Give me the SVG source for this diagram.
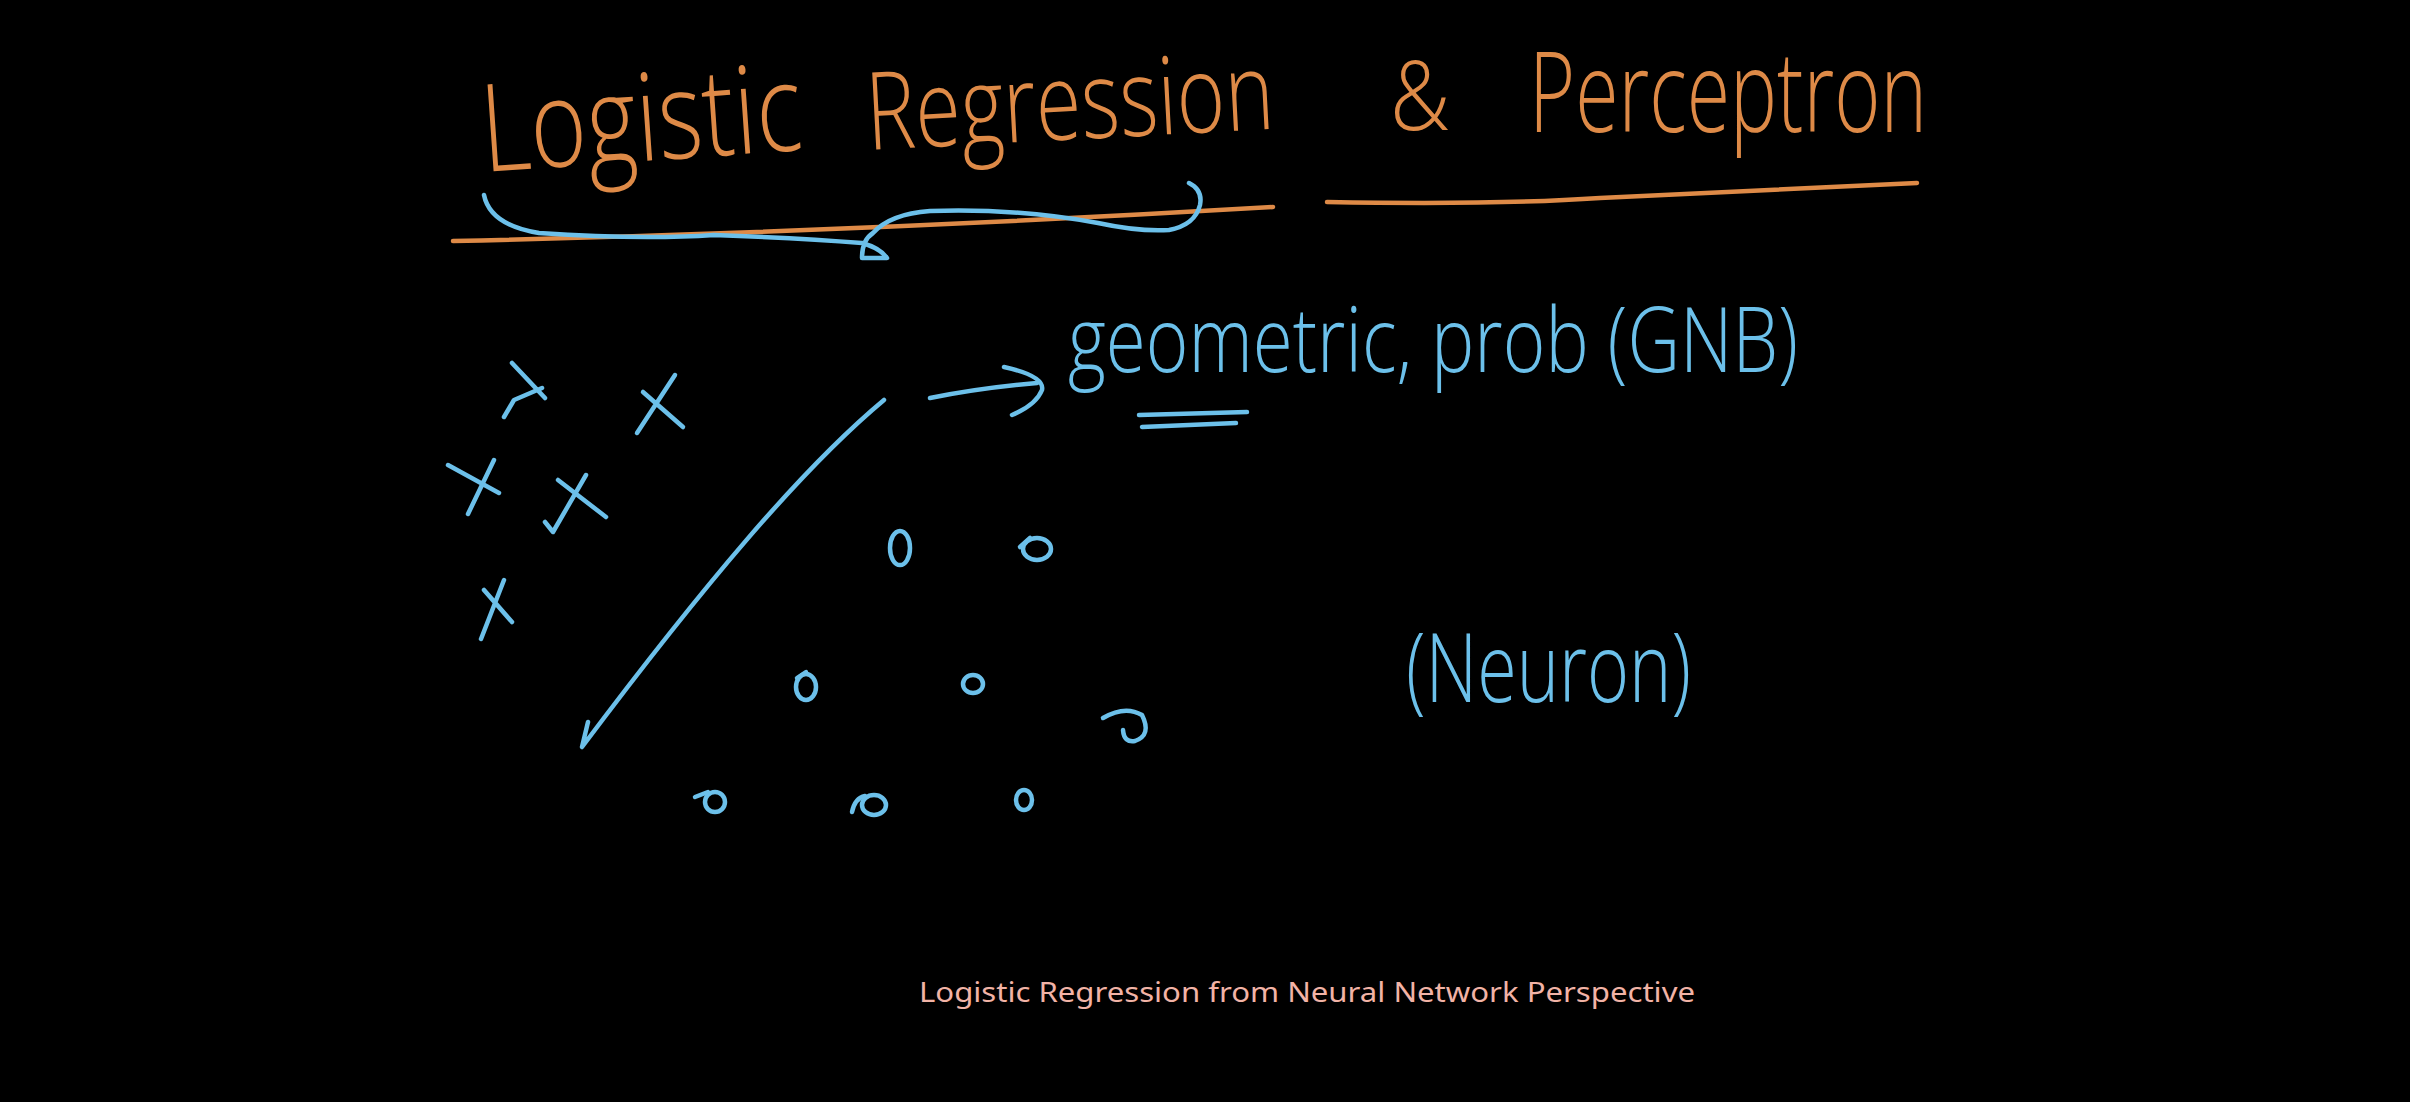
<svg xmlns="http://www.w3.org/2000/svg" width="2410" height="1102" viewBox="0 0 2410 1102">
<style>
.or{fill:none;stroke:#de8a47;stroke-width:4.5;stroke-linecap:round;stroke-linejoin:round}
.bl{fill:none;stroke:#6cc0ea;stroke-width:4.5;stroke-linecap:round;stroke-linejoin:round}
.to{fill:#de8a47;font-family:"Open Sans","Noto Sans",sans-serif;font-weight:300}
.tb{fill:#6cc0ea;font-family:"Open Sans","Noto Sans",sans-serif;font-weight:300}
.cap{fill:#f2b3a6;font-family:"Comic Sans MS","Noto Sans",sans-serif;font-size:27px}
</style>
<rect width="2410" height="1102" fill="#000"/>
<g id="title">
<text class="to" x="484" y="172" font-size="122" textLength="321" lengthAdjust="spacingAndGlyphs" transform="rotate(-4 484 172)">Logistic</text>
<text class="to" x="868" y="150" font-size="108" textLength="408" lengthAdjust="spacingAndGlyphs" transform="rotate(-3 868 150)">Regression</text>
<text class="to" x="1390" y="130" font-size="95" textLength="60" lengthAdjust="spacingAndGlyphs">&amp;</text>
<text class="to" x="1529" y="132" font-size="112" textLength="398" lengthAdjust="spacingAndGlyphs">Perceptron</text>
<path class="or" d="M453,241 Q850,232 1273,207"/>
<path class="or" d="M1327,202 Q1500,205 1600,198 Q1760,190 1917,183"/>
<path class="bl" d="M484,195 Q490,225 539,233 Q640,240 714,235 Q800,238 862,243 Q880,248 887,258 L862,258 Q862,240 873,233 Q890,214 930,211 Q1016,208 1098,223 Q1140,232 1169,230 Q1195,225 1200,205 Q1203,190 1189,183"/>
</g>
<g id="crosses">
<path class="bl" d="M512,363 L545,398 M542,388 L514,400 L504,417"/>
<path class="bl" d="M675,375 L637,433 M643,392 L683,427"/>
<path class="bl" d="M494,460 L468,514 M448,465 L499,493"/>
<path class="bl" d="M586,475 L553,532 L545,522 M558,480 L606,517"/>
<path class="bl" d="M504,580 L481,639 M484,590 L512,622"/>
</g>
<g id="circles">
<ellipse class="bl" cx="900" cy="548" rx="10" ry="17"/>
<ellipse class="bl" cx="1037" cy="549" rx="14" ry="11"/>
<path class="bl" d="M1020,547 L1030,538"/>
<ellipse class="bl" cx="806" cy="687" rx="10" ry="13"/>
<path class="bl" d="M797,678 L806,672"/>
<ellipse class="bl" cx="973" cy="684" rx="10" ry="9"/>
<path class="bl" d="M1103,718 Q1125,705 1142,715 Q1152,735 1135,741 Q1124,743 1123,730"/>
<ellipse class="bl" cx="715" cy="802" rx="10" ry="10"/>
<path class="bl" d="M695,797 L708,792"/>
<ellipse class="bl" cx="874" cy="805" rx="12" ry="10"/>
<path class="bl" d="M852,812 Q855,798 865,796"/>
<ellipse class="bl" cx="1024" cy="800" rx="8" ry="10"/>
</g>
<g id="boundary">
<path class="bl" d="M884,400 C800,470 700,590 582,747 L588,722"/>
</g>
<g id="connectors">
<path class="bl" d="M930,398 Q980,388 1037,383"/>
<path class="bl" d="M1004,367 Q1045,376 1042,390 Q1036,405 1012,415"/>
</g>
<g id="label-approaches">
<text class="tb" x="1068" y="372" font-size="90" textLength="730" lengthAdjust="spacingAndGlyphs">geometric, prob (GNB)</text>
<path class="bl" d="M1139,415 L1247,412 M1142,427 L1236,423"/>
</g>
<g id="label-neuron">
<text class="tb" x="1406" y="702" font-size="95" textLength="285" lengthAdjust="spacingAndGlyphs">(Neuron)</text>
</g>
<g id="caption">
<text class="cap" x="919" y="1002" textLength="776" lengthAdjust="spacingAndGlyphs">Logistic Regression from Neural Network Perspective</text>
</g>
</svg>
